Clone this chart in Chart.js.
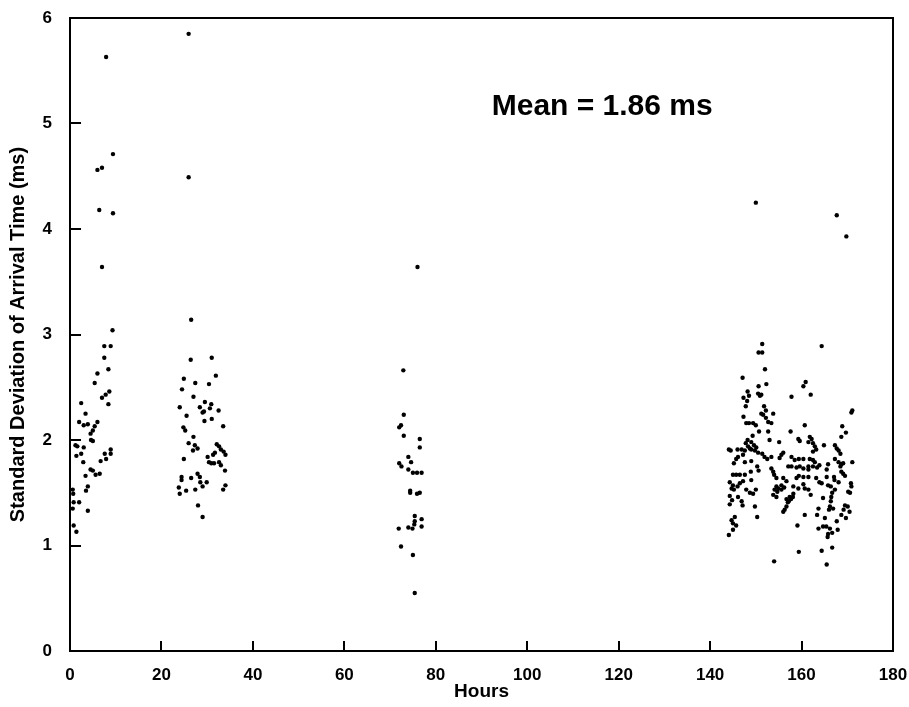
<!DOCTYPE html>
<html>
<head>
<meta charset="utf-8">
<script src="https://cdn.jsdelivr.net/npm/chart.js@4.4.0/dist/chart.umd.min.js"></script>
<style>
  html, body { margin: 0; padding: 0; background: #fff; }
</style>
</head>
<body>
<canvas id="chart" width="909" height="707"></canvas>
<script>
// hours / std dev (ms), one pair of arrays per recording session
var hoursA = [7.9, 9.4, 6.0, 7.0, 6.4, 9.4, 7.0, 9.3, 7.5, 8.9, 7.5, 6.0, 8.4, 5.4, 7.0, 7.8, 8.6, 8.4, 2.45, 3.4,
  2.0, 3.0, 3.9, 6.0, 5.4, 5.0, 4.5, 4.6, 5.0, 1.2, 1.6, 3.0, 2.45, 1.4, 2.9, 7.6, 8.9, 8.9, 6.7, 7.9,
  4.5, 5.0, 5.6, 6.5, 3.4, 3.9, 3.5, 0.6, 0.7, 0.8, 2.0, 0.6, 3.9, 0.8, 1.4];
var sdA = [5.63, 4.71, 4.56, 4.58, 4.18, 4.15, 3.64, 3.04, 2.89, 2.89, 2.78, 2.63, 2.67, 2.54, 2.40, 2.43, 2.46, 2.34, 2.35, 2.25,
  2.17, 2.14, 2.15, 2.17, 2.13, 2.09, 2.06, 2.00, 1.99, 1.95, 1.94, 1.93, 1.87, 1.85, 1.79, 1.87, 1.87, 1.91, 1.80, 1.82,
  1.72, 1.71, 1.67, 1.68, 1.66, 1.56, 1.52, 1.53, 1.49, 1.41, 1.41, 1.35, 1.33, 1.19, 1.13];

var hoursB = [25.95, 25.95, 26.5, 26.4, 31.0, 24.9, 31.9, 27.4, 30.4, 24.5, 27.0, 29.5, 24.0, 28.4, 30.9, 30.6, 29.3, 29.0, 32.5, 25.5,
  29.4, 31.0, 33.5, 24.8, 25.2, 27.0, 25.95, 27.3, 27.9, 26.9, 32.1, 32.6, 33.0, 33.6, 34.0, 31.7, 31.3, 30.1, 24.9, 30.4,
  30.9, 31.5, 32.6, 33.0, 33.9, 24.4, 24.4, 26.5, 27.9, 28.4, 28.5, 29.9, 23.8, 25.4, 24.0, 29.0, 27.4, 34.0, 33.5, 28.0, 29.0];
var sdB = [5.85, 4.49, 3.14, 2.76, 2.78, 2.58, 2.61, 2.54, 2.53, 2.48, 2.41, 2.36, 2.31, 2.31, 2.34, 2.30, 2.27, 2.26, 2.28, 2.23,
  2.18, 2.20, 2.13, 2.12, 2.09, 2.03, 1.97, 1.95, 1.92, 1.90, 1.96, 1.94, 1.91, 1.89, 1.86, 1.88, 1.86, 1.84, 1.82, 1.79,
  1.78, 1.78, 1.79, 1.76, 1.71, 1.65, 1.62, 1.64, 1.68, 1.65, 1.60, 1.60, 1.55, 1.52, 1.49, 1.56, 1.53, 1.57, 1.53, 1.38, 1.27];

var hoursC = [76.0, 72.9, 73.0, 72.4, 72.0, 73.0, 76.5, 76.5, 74.0, 74.6, 72.0, 72.5, 74.0, 75.0, 75.9, 76.9, 74.4, 74.4, 75.9, 76.5,
  75.4, 76.9, 75.4, 75.3, 71.9, 74.0, 74.9, 76.9, 72.4, 75.0, 75.4];
var sdC = [3.64, 2.66, 2.24, 2.14, 2.12, 2.04, 2.01, 1.93, 1.84, 1.79, 1.78, 1.75, 1.72, 1.69, 1.69, 1.69, 1.52, 1.50, 1.49, 1.50,
  1.28, 1.25, 1.23, 1.20, 1.16, 1.17, 1.16, 1.18, 0.99, 0.91, 0.55];

var hoursD = [150.0, 151.4, 150.6, 151.4, 152.0, 147.1, 167.7, 169.8, 164.4,
  150.6, 152.3, 148.2, 147.3, 148.1, 148.5, 150.5, 150.9, 151.2, 151.8, 152.2, 147.8, 151.2, 151.6, 153.8, 152.2, 152.7, 153.4,
  147.3, 147.9, 148.5, 149.4, 150.0, 157.8, 157.6, 150.7, 152.7, 153.0, 149.3, 149.0, 149.6, 150.1, 148.2, 147.8, 148.3, 155.1,
  159.3, 159.6, 144.1, 144.5, 146.0, 146.9, 147.6, 148.7, 149.0, 149.8, 150.5, 151.4, 147.2, 146.1, 145.7, 151.9, 152.5, 153.4,
  155.6, 156.0, 155.2, 157.8, 158.5, 159.4, 145.2, 147.6, 149.0, 150.3, 150.6, 153.4, 153.8, 154.0, 157.1, 157.8, 158.9, 159.6,
  148.9, 145.0, 145.7, 146.5, 147.6, 154.5, 156.0, 156.7, 158.9, 159.4, 144.3, 145.0, 146.5, 147.2, 149.0, 155.6, 154.9, 154.5,
  144.7, 145.2, 146.0, 147.9, 148.7, 149.4, 150.0, 154.1, 154.7, 155.6, 156.2, 158.2, 159.3, 153.8, 154.5, 158.2, 157.4,
  144.3, 144.8, 146.1, 146.9, 144.3, 147.1, 149.8, 156.7, 157.0, 156.7, 156.3, 156.0, 157.2, 157.7, 158.1,
  145.4, 144.7, 145.0, 145.7, 150.3, 159.1, 145.0, 144.1, 159.4, 154.0,
  160.9, 160.4, 162.0, 171.1, 170.9, 168.9, 169.7, 168.7, 160.7, 161.8, 162.2, 161.5, 162.5, 162.9, 163.2, 162.5, 164.9,
  167.3, 167.7, 168.1, 168.5, 160.4, 161.8, 162.5, 162.9, 163.9, 163.4, 162.5, 161.5, 161.5, 160.4, 165.8, 165.5,
  167.3, 168.1, 168.7, 169.1, 168.5, 171.1, 168.7, 169.1, 169.5, 160.4, 161.5, 163.2, 163.9, 165.5, 167.1, 167.2,
  160.4, 160.7, 161.5, 162.0, 164.4, 165.8, 166.4, 170.8, 170.9, 170.2, 170.6, 168.1, 167.3, 166.7, 166.5, 164.7,
  166.4, 166.2, 166.9, 166.0, 169.5, 170.1, 170.5, 169.2, 168.7, 169.7, 160.7, 163.4, 163.7, 165.1, 167.7,
  163.7, 164.7, 165.4, 166.2, 165.8, 166.7, 167.9, 165.7, 166.7, 164.4, 165.5];
var sdD = [4.25, 2.91, 2.83, 2.83, 2.67, 2.59, 4.13, 3.93, 2.89,
  2.51, 2.53, 2.46, 2.40, 2.37, 2.42, 2.44, 2.42, 2.43, 2.32, 2.28, 2.32, 2.25, 2.24, 2.25, 2.21, 2.17, 2.16,
  2.22, 2.16, 2.16, 2.16, 2.14, 2.41, 2.08, 2.08, 2.08, 2.00, 2.04, 1.98, 1.95, 1.93, 2.00, 1.97, 1.94, 1.98,
  2.01, 1.99, 1.91, 1.90, 1.91, 1.91, 1.90, 1.92, 1.91, 1.90, 1.88, 1.87, 1.86, 1.84, 1.82, 1.84, 1.82, 1.84,
  1.86, 1.88, 1.83, 1.84, 1.81, 1.82, 1.78, 1.79, 1.80, 1.75, 1.71, 1.73, 1.70, 1.67, 1.75, 1.75, 1.74, 1.75,
  1.70, 1.67, 1.67, 1.67, 1.67, 1.64, 1.64, 1.61, 1.64, 1.66, 1.60, 1.57, 1.59, 1.61, 1.62, 1.57, 1.54, 1.56,
  1.54, 1.53, 1.56, 1.53, 1.50, 1.49, 1.53, 1.53, 1.51, 1.53, 1.55, 1.56, 1.54, 1.48, 1.46, 1.49, 1.46,
  1.47, 1.43, 1.46, 1.42, 1.39, 1.38, 1.37, 1.44, 1.41, 1.37, 1.34, 1.32, 1.42, 1.44, 1.46,
  1.27, 1.24, 1.21, 1.19, 1.27, 1.19, 1.15, 1.10, 0.94, 0.85,
  2.55, 2.51, 2.43, 2.28, 2.26, 2.13, 2.07, 2.03, 2.14, 2.03, 2.01, 1.98, 1.97, 1.94, 1.91, 1.89, 1.95,
  1.95, 1.92, 1.90, 1.87, 1.82, 1.82, 1.81, 1.79, 1.76, 1.74, 1.75, 1.75, 1.72, 1.73, 1.77, 1.72,
  1.82, 1.79, 1.77, 1.78, 1.75, 1.79, 1.70, 1.68, 1.66, 1.65, 1.65, 1.64, 1.60, 1.65, 1.65, 1.62,
  1.58, 1.54, 1.53, 1.48, 1.59, 1.57, 1.56, 1.59, 1.56, 1.51, 1.50, 1.60, 1.53, 1.50, 1.46, 1.45,
  1.42, 1.37, 1.35, 1.34, 1.38, 1.37, 1.32, 1.34, 1.29, 1.26, 1.29, 1.29, 1.35, 1.26, 1.23,
  1.16, 1.18, 1.18, 1.16, 1.11, 1.12, 1.15, 1.08, 0.98, 0.95, 0.82];

var meanText = 'Mean = 1.86 ms';

var hours = hoursA.concat(hoursB, hoursC, hoursD);
var sd = sdA.concat(sdB, sdC, sdD);
var points = [];
for (var i = 0; i < hours.length; i++) {
  points.push({x: hours[i], y: sd[i]});
}

var FONT = '"Liberation Sans", Arial, sans-serif';

// box round the plot, inward tick marks and the mean label
var framePlugin = {
  id: 'frame',
  afterDraw: function (chart) {
    var ctx = chart.ctx;
    var a = chart.chartArea;
    var xs = chart.scales.x, ys = chart.scales.y;
    ctx.save();
    ctx.strokeStyle = '#000';
    ctx.lineWidth = 2;
    ctx.strokeRect(a.left, a.top, a.right - a.left, a.bottom - a.top);
    ctx.beginPath();
    xs.ticks.forEach(function (t) {
      var px = Math.round(xs.getPixelForValue(t.value));
      ctx.moveTo(px, a.bottom);
      ctx.lineTo(px, a.bottom - 10);
    });
    ys.ticks.forEach(function (t) {
      var py = Math.round(ys.getPixelForValue(t.value));
      ctx.moveTo(a.left, py);
      ctx.lineTo(a.left + 11, py);
    });
    ctx.stroke();
    ctx.fillStyle = '#000';
    ctx.font = 'bold 30px ' + FONT;
    ctx.textAlign = 'center';
    ctx.textBaseline = 'middle';
    ctx.fillText(meanText, xs.getPixelForValue(116.4), ys.getPixelForValue(5.16));
    ctx.restore();
  }
};

var myChart = new Chart(document.getElementById('chart').getContext('2d'), {
  type: 'scatter',
  data: {
    datasets: [{
      data: points,
      backgroundColor: '#000',
      borderWidth: 0,
      pointRadius: 2.2
    }]
  },
  options: {
    responsive: false,
    animation: false,
    layout: {padding: {top: 18, right: 16, left: 0, bottom: 0}},
    plugins: {legend: {display: false}, tooltip: {enabled: false}},
    scales: {
      x: {
        type: 'linear', min: 0, max: 180,
        ticks: {stepSize: 20, color: '#000', padding: 14, font: {family: FONT, size: 17, weight: 'bold'}},
        grid: {display: false, drawTicks: false},
        border: {display: false},
        title: {display: true, text: 'Hours', color: '#000', padding: {top: 0, bottom: 4},
          font: {family: FONT, size: 19, weight: 'bold'}},
        afterFit: function (s) { s.height = 56; s.paddingLeft = 0; s.paddingRight = 0; }
      },
      y: {
        min: 0, max: 6,
        ticks: {stepSize: 1, color: '#000', padding: 18, font: {family: FONT, size: 17, weight: 'bold'}},
        grid: {display: false, drawTicks: false},
        border: {display: false},
        title: {display: true, text: 'Standard Deviation of Arrival Time (ms)', color: '#000',
          padding: {top: 6, bottom: 0}, font: {family: FONT, size: 20, weight: 'bold'}},
        afterFit: function (s) { s.width = 70; s.paddingTop = 0; s.paddingBottom = 0; }
      }
    }
  },
  plugins: [framePlugin]
});
</script>
</body>
</html>
